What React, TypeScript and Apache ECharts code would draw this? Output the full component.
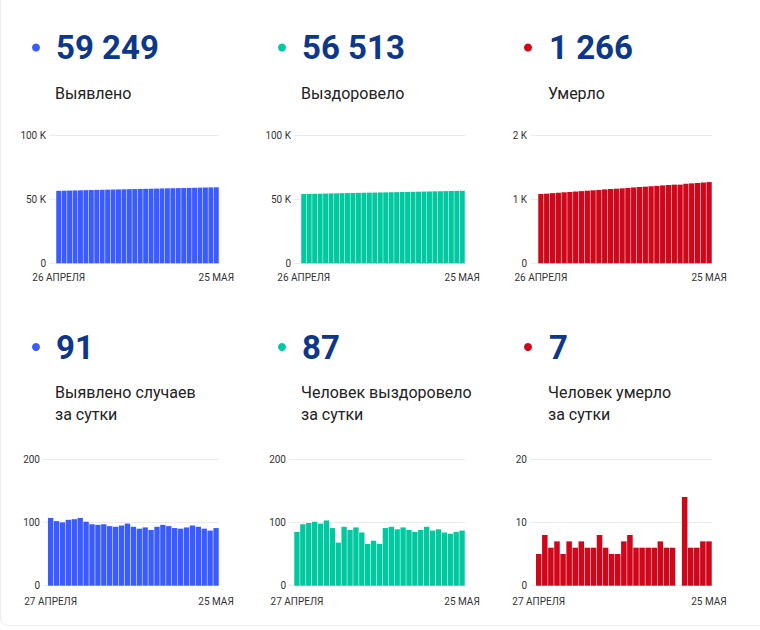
import React, { useEffect, useRef } from "react";
import * as echarts from "echarts";

// Categories
const datesTotal = [
  "26 АПРЕЛЯ", "27 АПРЕЛЯ", "28 АПРЕЛЯ", "29 АПРЕЛЯ", "30 АПРЕЛЯ",
  "1 МАЯ", "2 МАЯ", "3 МАЯ", "4 МАЯ", "5 МАЯ", "6 МАЯ", "7 МАЯ", "8 МАЯ",
  "9 МАЯ", "10 МАЯ", "11 МАЯ", "12 МАЯ", "13 МАЯ", "14 МАЯ", "15 МАЯ",
  "16 МАЯ", "17 МАЯ", "18 МАЯ", "19 МАЯ", "20 МАЯ", "21 МАЯ", "22 МАЯ",
  "23 МАЯ", "24 МАЯ", "25 МАЯ",
];
const datesDaily = [
  "27 АПРЕЛЯ", "28 АПРЕЛЯ", "29 АПРЕЛЯ", "30 АПРЕЛЯ",
  "1 МАЯ", "2 МАЯ", "3 МАЯ", "4 МАЯ", "5 МАЯ", "6 МАЯ", "7 МАЯ", "8 МАЯ",
  "9 МАЯ", "10 МАЯ", "11 МАЯ", "12 МАЯ", "13 МАЯ", "14 МАЯ", "15 МАЯ",
  "16 МАЯ", "17 МАЯ", "18 МАЯ", "19 МАЯ", "20 МАЯ", "21 МАЯ", "22 МАЯ",
  "23 МАЯ", "24 МАЯ", "25 МАЯ",
];

// Cumulative series
const confirmedTotal = [
  56478, 56585, 56687, 56787, 56891, 56996, 57103, 57204, 57301, 57397,
  57494, 57588, 57681, 57776, 57874, 57967, 58057, 58149, 58237, 58330,
  58426, 58520, 58611, 58701, 58793, 58888, 58981, 59071, 59158, 59249,
];
const recoveredTotal = [
  53978, 54063, 54160, 54259, 54360, 54458, 54561, 54652, 54720, 54813,
  54901, 54993, 55077, 55143, 55214, 55280, 55371, 55464, 55553, 55645,
  55733, 55818, 55906, 55999, 56086, 56175, 56259, 56341, 56426, 56513,
];
const deathsTotal = [
  1081, 1086, 1094, 1100, 1107, 1112, 1119, 1125, 1132, 1138,
  1144, 1152, 1158, 1163, 1168, 1175, 1183, 1189, 1195, 1201,
  1207, 1214, 1220, 1226, 1226, 1240, 1246, 1252, 1259, 1266,
];

// Daily series
const confirmedDaily = [
  107, 102, 100, 104, 105, 107, 101, 97, 96, 97, 94, 93, 95, 98, 93,
  90, 92, 88, 93, 96, 94, 91, 90, 92, 95, 93, 90, 87, 91,
];
const recoveredDaily = [
  85, 97, 99, 101, 98, 103, 91, 68, 93, 88, 92, 84, 66, 71, 66,
  91, 93, 89, 92, 88, 85, 88, 93, 87, 89, 84, 82, 85, 87,
];
const deathsDaily = [
  5, 8, 6, 7, 5, 7, 6, 7, 6, 6, 8, 6, 5, 5, 7,
  8, 6, 6, 6, 6, 7, 6, 6, 0, 14, 6, 6, 7, 7,
];

// Texts
const headlineValues = ["59 249", "56 513", "1 266", "91", "87", "7"];
const headlineLabels = [
  "Выявлено",
  "Выздоровело",
  "Умерло",
  "Выявлено случаев\nза сутки",
  "Человек выздоровело\nза сутки",
  "Человек умерло\nза сутки",
];

const BLUE = "#3a5cff";
const GREEN = "#00c8a0";
const RED = "#d0061b";
const NAVY = "#0d378a";
const FONT = "Roboto, 'Noto Sans', sans-serif";

const panels = [
  { dates: datesTotal, values: confirmedTotal, color: BLUE, max: 100000, interval: 50000, frameL: 49, barL: 56, right: 219, top: 135, bottom: 263.3, margin: 9 },
  { dates: datesTotal, values: recoveredTotal, color: GREEN, max: 100000, interval: 50000, frameL: 294, barL: 301, right: 465, top: 135, bottom: 263.3, margin: 9 },
  { dates: datesTotal, values: deathsTotal, color: RED, max: 2000, interval: 1000, frameL: 530, barL: 538, right: 712, top: 135, bottom: 263.3, margin: 9 },
  { dates: datesDaily, values: confirmedDaily, color: BLUE, max: 200, interval: 100, frameL: 43, barL: 47.7, right: 219, top: 459, bottom: 585.7, margin: 10.5 },
  { dates: datesDaily, values: recoveredDaily, color: GREEN, max: 200, interval: 100, frameL: 289, barL: 294, right: 465, top: 459, bottom: 585.7, margin: 10.5 },
  { dates: datesDaily, values: deathsDaily, color: RED, max: 20, interval: 10, frameL: 530, barL: 535.7, right: 712, top: 459, bottom: 585.7, margin: 10.5 },
];

const colX = [
  { dot: 36, text: 55 },
  { dot: 282, text: 301 },
  { dot: 528, text: 548 },
];

const fmtY = (v: number) => (v >= 1000 ? v / 1000 + " K" : String(v));

function buildOption() {
  const grid: any[] = [];
  const xAxis: any[] = [];
  const yAxis: any[] = [];
  const series: any[] = [];

  panels.forEach((p, i) => {
    const fi = i * 2;
    const bi = i * 2 + 1;
    const h = p.bottom - p.top;
    grid.push({ left: p.frameL, top: p.top, width: p.right - p.frameL, height: h });
    xAxis.push({ type: "value", gridIndex: fi, show: false, min: 0, max: 1 });
    yAxis.push({
      type: "value",
      gridIndex: fi,
      min: 0,
      max: p.max,
      interval: p.interval,
      axisLine: { show: false },
      axisTick: { show: false },
      axisLabel: { color: "#333", fontSize: 10, fontFamily: FONT, margin: 3, formatter: fmtY },
      splitLine: { lineStyle: { color: "#ebebeb", width: 1 } },
    });
    grid.push({ left: p.barL, top: p.top, width: p.right - p.barL, height: h });
    const n = p.dates.length;
    xAxis.push({
      type: "category",
      gridIndex: bi,
      data: p.dates,
      axisLine: { show: false },
      axisTick: { show: false },
      axisLabel: {
        color: "#333",
        fontSize: 10,
        fontFamily: FONT,
        margin: p.margin,
        interval: (idx: number) => idx === 0 || idx === n - 1,
        hideOverlap: false,
      },
    });
    yAxis.push({ type: "value", gridIndex: bi, min: 0, max: p.max, show: false, splitLine: { show: false } });
    series.push({
      type: "bar",
      xAxisIndex: bi,
      yAxisIndex: bi,
      data: p.values,
      barCategoryGap: "9%",
      itemStyle: { color: p.color },
      silent: true,
    });
  });

  const graphic: any[] = [];
  headlineValues.forEach((val, i) => {
    const col = colX[i % 3];
    const row = Math.floor(i / 3);
    const color = [BLUE, GREEN, RED][i % 3];
    const numY = row === 0 ? 47.5 : 347;
    graphic.push({ type: "circle", shape: { cx: col.dot, cy: numY, r: 4 }, style: { fill: color } });
    graphic.push({
      type: "text",
      x: col.text + 1,
      y: numY,
      style: { text: val, fill: NAVY, font: `bold 33px ${FONT}`, verticalAlign: "middle" },
    });
    graphic.push({
      type: "text",
      x: col.text,
      y: row === 0 ? 93 : 381,
      style: {
        text: headlineLabels[i],
        fill: "#222",
        font: `16px ${FONT}`,
        lineHeight: 22,
        verticalAlign: row === 0 ? "middle" : "top",
      },
    });
  });

  return { animation: false, grid, xAxis, yAxis, series, graphic };
}

export default function App() {
  const ref = useRef<HTMLDivElement>(null);
  useEffect(() => {
    if (!ref.current) return;
    const chart = echarts.init(ref.current, undefined, { renderer: "svg" });
    chart.setOption(buildOption() as any);
    return () => chart.dispose();
  }, []);
  return (
    <div style={{ position: "absolute", left: 0, top: 0, width: 760, height: 630, overflow: "hidden", background: "#fff" }}>
      <div
        style={{
          position: "absolute",
          left: 0,
          top: -20,
          width: 820,
          height: 646,
          border: "1px solid #ececec",
          borderRadius: 8,
          boxSizing: "border-box",
        }}
      />
      <div ref={ref} style={{ position: "absolute", left: 0, top: 0, width: 760, height: 630 }} />
    </div>
  );
}
